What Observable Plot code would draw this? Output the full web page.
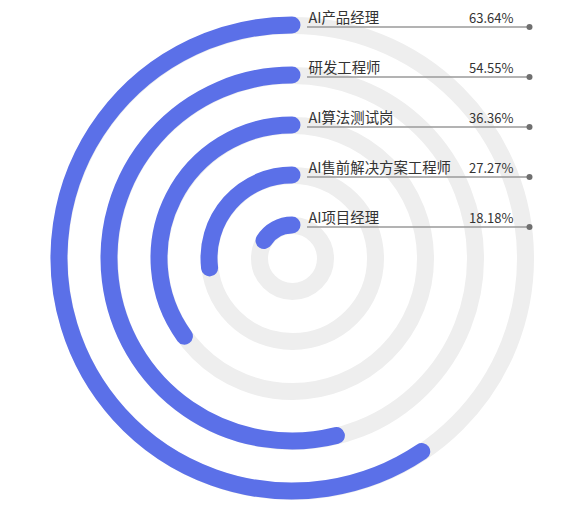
<!DOCTYPE html>
<html>
<head>
<meta charset="utf-8">
<script src="https://cdn.jsdelivr.net/npm/d3@7"></script>
<script src="https://cdn.jsdelivr.net/npm/@observablehq/plot@0.6"></script>
<style>
  html, body { margin: 0; padding: 0; background: #ffffff; }
  #chart { width: 588px; }
</style>
</head>
<body>
<div id="chart"></div>
<script>
// ---- data (outer ring first) ----
const categories = ["AI产品经理", "研发工程师", "AI算法测试岗", "AI售前解决方案工程师", "AI项目经理"];
const shares = [63.64, 54.55, 36.36, 27.27, 18.18];          // labelled values, %
const arcSweep = [59.4, 53.9, 35.0, 26.9, 16.1];             // drawn sweep of each blue arc, % of a full turn
const ringOrder = [0, 1, 2, 3, 4];                            // 0 = outermost ring

// ---- layout ----
const W = 588, H = 512, CX = 292, CY = 258;
const BAR = 17;
const LABEL_X = 16, PCT_X = 221, LINE_X0 = 15, LINE_X1 = 237;
const FONT = "'Noto Sans CJK SC', 'Noto Sans', sans-serif";

const rOptions = {type: "linear", domain: [0, categories.length - 1], range: [233, 33]};
const radius = Plot.scale({r: rOptions});
const angle = d3.scaleLinear([0, 100], [0, 2 * Math.PI]);

const data = categories.map((name, i) => ({
  name, share: shares[i], sweep: arcSweep[i], ring: ringOrder[i]
}));
const lineY = d => -radius.apply(d.ring) + 1.5;

// custom arc mark: a stroked arc starting at 12 o'clock, running anticlockwise
class RingArc extends Plot.Mark {
  constructor(data, options = {}) {
    const {x, y, r, sweep} = options;
    super(data, {
      x: {value: x, scale: "x"},
      y: {value: y, scale: "y"},
      r: {value: r, scale: "r"},
      sweep: {value: sweep}
    }, options);
    this.color = options.color;
    this.width = options.width;
  }
  render(index, scales, values) {
    const g = d3.create("svg:g");
    for (const i of index) {
      const cx = values.x[i], cy = values.y[i], r = values.r[i];
      const a = angle(values.sweep[i]);
      const p = d3.path();
      p.moveTo(cx, cy - r);
      p.arc(cx, cy, r, -Math.PI / 2, -Math.PI / 2 - a, true);
      g.append("path")
        .attr("d", p.toString())
        .attr("fill", "none")
        .attr("stroke", this.color)
        .attr("stroke-width", this.width)
        .attr("stroke-linecap", "round");
    }
    return g.node();
  }
}

const chart = Plot.plot({
  width: W,
  height: H,
  margin: 0,
  style: {fontFamily: FONT, background: "#ffffff"},
  x: {type: "linear", domain: [-CX, W - CX], range: [0, W], axis: null},
  y: {type: "linear", domain: [-CY, H - CY], range: [0, H], axis: null},
  r: rOptions,
  marks: [
    Plot.dot(data, {x: () => 0, y: () => 0, r: "ring", fill: "none", stroke: "#eeeeee", strokeWidth: BAR}),
    new RingArc(data, {x: () => 0, y: () => 0, r: "ring", sweep: "sweep", color: "#5b70e8", width: BAR}),
    Plot.ruleY(data, {y: lineY, x1: () => LINE_X0, x2: () => LINE_X1, stroke: "#9a9a9a", strokeWidth: 1.3}),
    Plot.dot(data, {x: () => LINE_X1, y: lineY, r: 3, fill: "#6f6f6f"}),
    Plot.text(data, {x: () => LABEL_X, y: lineY, text: "name", textAnchor: "start", lineAnchor: "bottom", dy: -4,
      fontSize: 14.4, fill: "#333333", fontFamily: FONT}),
    Plot.text(data, {x: () => PCT_X, y: lineY, text: d => d.share.toFixed(2) + "%", textAnchor: "end", lineAnchor: "bottom", dy: -4,
      fontSize: 13, fill: "#333333", fontFamily: FONT})
  ]
});
document.getElementById("chart").appendChild(chart);
</script>
</body>
</html>
